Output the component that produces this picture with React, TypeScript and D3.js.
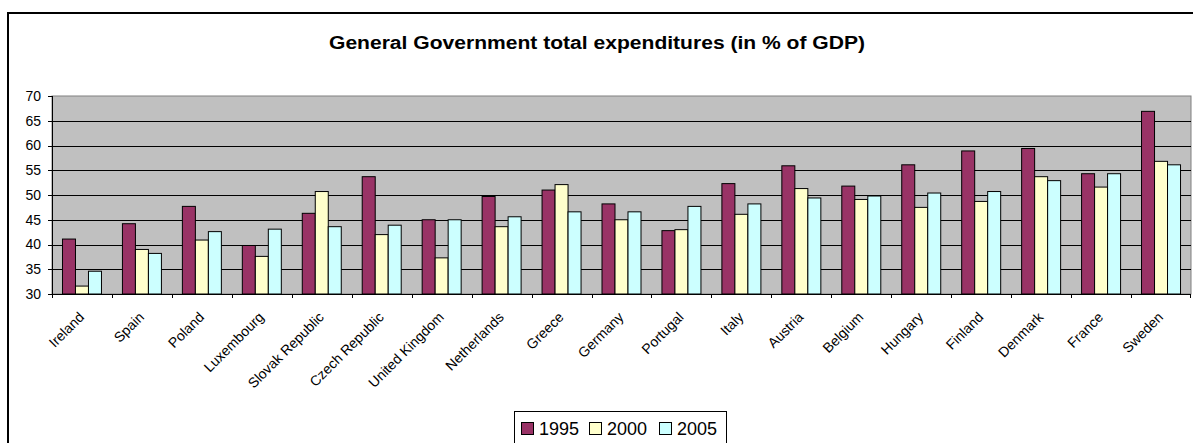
import React from "react";
import * as d3 from "d3";

const countries = ["Ireland","Spain","Poland","Luxembourg","Slovak Republic","Czech Republic","United Kingdom","Netherlands","Greece","Germany","Portugal","Italy","Austria","Belgium","Hungary","Finland","Denmark","France","Sweden"];
const years = ["1995","2000","2005"];
const v1995 = [41.1,44.2,47.7,39.8,46.3,53.7,45.0,49.7,51.0,48.2,42.8,52.3,55.9,51.8,56.1,58.9,59.4,54.3,66.9];
const v2000 = [31.6,39.0,40.9,37.6,50.7,42.0,37.3,43.6,52.1,45.0,43.0,46.1,51.3,49.1,47.5,48.7,53.7,51.6,56.8];
const v2005 = [34.6,38.2,42.6,43.1,43.6,43.9,45.0,45.6,46.6,46.6,47.7,48.2,49.4,49.8,50.4,50.7,52.9,54.3,56.1];
const yTicks = [30,35,40,45,50,55,60,65,70];
const colors = ["#993366","#FFFFCC","#CCFFFF"];
const title = "General Government total expenditures (in % of GDP)";

export default function App() {
  const W = 1193, H = 443;
  const left = 52, right = 1191, top = 96, bottom = 294;
  const series = [v1995, v2000, v2005];
  const x0 = d3.scaleBand<string>().domain(countries).range([left, right]).padding(0);
  const bw = x0.bandwidth();
  const x1 = d3.scaleBand<string>().domain(years).range([0, bw]).paddingInner(0).paddingOuter(0.806);
  const y = d3.scaleLinear().domain([30, 70]).range([bottom, top]);
  const font = "Arial, 'Liberation Sans', sans-serif";
  const legendItems = [
    { label: "1995", x: 521 },
    { label: "2000", x: 589 },
    { label: "2005", x: 659 },
  ];
  return (
    <svg width={W} height={H} style={{ position: "absolute", left: 0, top: 0 }} fontFamily={font}>
      <rect x={0} y={0} width={W} height={H} fill="#fff" />
      <rect x={8} y={13} width={1250} height={500} fill="none" stroke="#000" strokeWidth={2} />
      <text x={597} y={49} textAnchor="middle" fontSize={18} fontWeight="bold" textLength={536} lengthAdjust="spacingAndGlyphs">{title}</text>
      <rect x={left} y={top} width={right - left} height={bottom - top} fill="#C0C0C0" stroke="#808080" strokeWidth={1} />
      {yTicks.filter(t => t > 30 && t < 70).map(t => (
        <line key={t} x1={left} x2={right} y1={Math.round(y(t)) + 0.5} y2={Math.round(y(t)) + 0.5} stroke="#000" strokeWidth={1} />
      ))}
      {countries.map((c, i) => (
        <g key={c}>
          {series.map((s, k) => {
            const bx = (x0(c) as number) + (x1(years[k]) as number);
            return (
              <rect key={k} x={bx} y={y(s[i])} width={x1.bandwidth()} height={bottom - y(s[i])}
                fill={colors[k]} stroke="#000" strokeWidth={1} />
            );
          })}
        </g>
      ))}
      <line x1={left + 0.5} x2={left + 0.5} y1={top} y2={bottom} stroke="#000" />
      <line x1={left} x2={right} y1={bottom + 0.5} y2={bottom + 0.5} stroke="#000" />
      {yTicks.map(t => (
        <g key={t}>
          <line x1={left - 4} x2={left} y1={Math.round(y(t)) + 0.5} y2={Math.round(y(t)) + 0.5} stroke="#000" />
          <text x={41} y={y(t)} dy="0.35em" textAnchor="end" fontSize={14}>{t}</text>
        </g>
      ))}
      {countries.map((c) => (
        <line key={"t" + c} x1={Math.round(x0(c) as number) + 0.5} x2={Math.round(x0(c) as number) + 0.5} y1={bottom} y2={bottom + 4} stroke="#000" />
      ))}
      <line x1={right - 0.5} x2={right - 0.5} y1={bottom} y2={bottom + 4} stroke="#000" />
      {countries.map(c => {
        const cx = (x0(c) as number) + bw / 2;
        return (
          <text key={"l" + c} transform={`translate(${cx - 4},${bottom + 17}) rotate(-45)`} textAnchor="end" dy="0.71em" fontSize={14}>{c}</text>
        );
      })}
      <rect x={514.5} y={411.5} width={212} height={40} fill="#fff" stroke="#000" strokeWidth={1} />
      {legendItems.map((it, k) => (
        <g key={it.label}>
          <rect x={it.x + 0.5} y={422.5} width={12} height={12} fill={colors[k]} stroke="#000" />
          <text x={it.x + 18} y={429} dy="0.35em" fontSize={18}>{it.label}</text>
        </g>
      ))}
    </svg>
  );
}
